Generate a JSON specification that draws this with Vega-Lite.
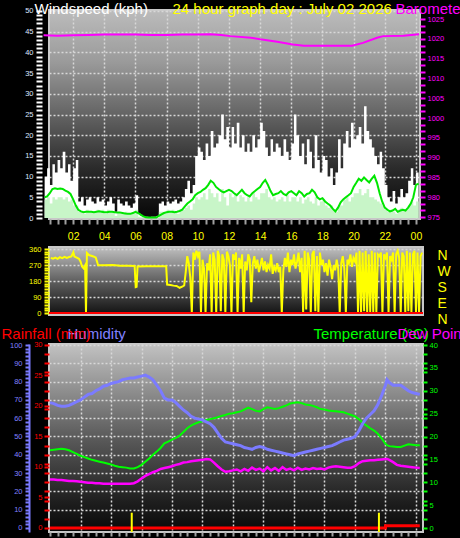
{
"$schema": "https://vega.github.io/schema/vega-lite/v6.json",
"background": "#000000",
"padding": 0,
"autosize": {"type": "pad"},
"config": {
  "font": "Liberation Sans",
  "axis": {"labelFont": "Liberation Sans", "titleFont": "Liberation Sans", "labelOverlap": false, "labelFlush": false, "domain": false, "titleFontWeight": "normal", "labelFontWeight": "normal", "gridDash": [2, 2], "gridColor": "#d8d8d8", "gridWidth": 1.5, "tickWidth": 2, "minExtent": 0},
  "axisY": {"minExtent": 0},
  "view": {"stroke": null}
},
"datasets": {
  "wind": [
    {"h":0.17,"gust":10,"speed":4.5,"avg":5},{"h":0.33,"gust":12,"speed":5,"avg":5.2},{"h":0.5,"gust":8,"speed":3.5,"avg":6},{"h":0.67,"gust":13,"speed":5,"avg":7},{"h":0.83,"gust":11,"speed":4.5,"avg":7.2},{"h":1,"gust":14,"speed":5,"avg":7},
    {"h":1.17,"gust":12,"speed":5,"avg":7.1},{"h":1.33,"gust":16,"speed":4.5,"avg":7},{"h":1.5,"gust":11,"speed":5,"avg":6.6},{"h":1.67,"gust":13,"speed":4,"avg":6.3},{"h":1.83,"gust":9,"speed":4.5,"avg":5.8},{"h":2,"gust":12,"speed":3,"avg":4.5},
    {"h":2.17,"gust":14,"speed":3,"avg":3},{"h":2.33,"gust":4,"speed":1.5,"avg":2},{"h":2.5,"gust":5,"speed":1.5,"avg":1.6},{"h":2.67,"gust":3,"speed":1,"avg":1.4},{"h":2.83,"gust":4.5,"speed":2,"avg":1.5},{"h":3,"gust":5,"speed":1.5,"avg":1.5},
    {"h":3.17,"gust":4,"speed":1.5,"avg":1.5},{"h":3.33,"gust":3.5,"speed":1.5,"avg":1.4},{"h":3.5,"gust":5,"speed":2,"avg":1.5},{"h":3.67,"gust":4,"speed":1.5,"avg":1.6},{"h":3.83,"gust":4.5,"speed":2,"avg":1.5},{"h":4,"gust":3,"speed":1,"avg":1.4},
    {"h":4.17,"gust":4,"speed":2,"avg":1.4},{"h":4.33,"gust":5,"speed":1.5,"avg":1.5},{"h":4.5,"gust":3.5,"speed":1.5,"avg":1.5},{"h":4.67,"gust":1.5,"speed":0.5,"avg":1.4},{"h":4.83,"gust":4.5,"speed":1.5,"avg":1.3},{"h":5,"gust":3.5,"speed":1,"avg":1.3},
    {"h":5.17,"gust":3,"speed":1,"avg":1.2},{"h":5.33,"gust":4,"speed":1.5,"avg":1.1},{"h":5.5,"gust":3,"speed":1,"avg":1},{"h":5.67,"gust":2.5,"speed":1,"avg":1},{"h":5.83,"gust":3.5,"speed":1.5,"avg":1.2},{"h":6,"gust":5.5,"speed":2,"avg":1.5},
    {"h":6.17,"gust":1,"speed":0.3,"avg":1.2},{"h":6.33,"gust":0.5,"speed":0.2,"avg":0.8},{"h":6.5,"gust":0.3,"speed":0,"avg":0.4},{"h":6.67,"gust":0.3,"speed":0,"avg":0.2},{"h":6.83,"gust":0.2,"speed":0,"avg":0.1},{"h":7,"gust":0.3,"speed":0,"avg":0.1},
    {"h":7.17,"gust":0.3,"speed":0,"avg":0.1},{"h":7.33,"gust":0.5,"speed":0,"avg":0.1},{"h":7.5,"gust":3.5,"speed":1.5,"avg":0.5},{"h":7.67,"gust":4,"speed":1.5,"avg":0.9},{"h":7.83,"gust":3,"speed":1,"avg":1.2},{"h":8,"gust":4,"speed":2,"avg":1.4},
    {"h":8.17,"gust":3.5,"speed":1.5,"avg":1.5},{"h":8.33,"gust":4,"speed":2,"avg":1.5},{"h":8.5,"gust":4.5,"speed":1.5,"avg":1.4},{"h":8.67,"gust":3.5,"speed":1,"avg":1.5},{"h":8.83,"gust":4,"speed":2,"avg":1.7},{"h":9,"gust":5,"speed":2,"avg":2},
    {"h":9.17,"gust":7,"speed":2.5,"avg":2.8},{"h":9.33,"gust":9,"speed":3,"avg":3.5},{"h":9.5,"gust":6,"speed":2,"avg":4},{"h":9.67,"gust":8,"speed":3.5,"avg":4.5},{"h":9.83,"gust":15,"speed":5,"avg":5.5},{"h":10,"gust":17,"speed":4.5,"avg":6},
    {"h":10.17,"gust":16,"speed":5,"avg":6.3},{"h":10.33,"gust":14,"speed":6,"avg":6.8},{"h":10.5,"gust":18,"speed":4.5,"avg":7.2},{"h":10.67,"gust":15,"speed":7,"avg":8},{"h":10.83,"gust":21,"speed":6,"avg":9},{"h":11,"gust":17,"speed":5,"avg":8.5},
    {"h":11.17,"gust":18,"speed":6,"avg":7.5},{"h":11.33,"gust":20,"speed":4,"avg":7},{"h":11.5,"gust":25,"speed":7,"avg":6.5},{"h":11.67,"gust":19,"speed":5,"avg":6.2},{"h":11.83,"gust":22,"speed":3,"avg":6.5},{"h":12,"gust":17,"speed":6,"avg":6.8},
    {"h":12.17,"gust":22,"speed":5,"avg":6.5},{"h":12.33,"gust":18,"speed":6,"avg":6},{"h":12.5,"gust":23,"speed":4,"avg":5.5},{"h":12.67,"gust":17,"speed":5.5,"avg":6.2},{"h":12.83,"gust":20,"speed":5,"avg":6.8},{"h":13,"gust":16,"speed":4,"avg":6},
    {"h":13.17,"gust":18,"speed":5,"avg":5.5},{"h":13.33,"gust":16,"speed":4,"avg":5.2},{"h":13.5,"gust":20,"speed":6,"avg":6},{"h":13.67,"gust":17,"speed":5,"avg":6.5},{"h":13.83,"gust":19,"speed":4.5,"avg":7},{"h":14,"gust":23,"speed":6,"avg":7.5},
    {"h":14.17,"gust":21,"speed":6,"avg":8.5},{"h":14.33,"gust":17,"speed":7,"avg":9.2},{"h":14.5,"gust":15,"speed":5,"avg":8},{"h":14.67,"gust":19,"speed":4.5,"avg":6.5},{"h":14.83,"gust":16,"speed":5,"avg":5.5},{"h":15,"gust":18,"speed":4,"avg":5.8},
    {"h":15.17,"gust":17,"speed":4.5,"avg":6},{"h":15.33,"gust":15,"speed":5,"avg":6.5},{"h":15.5,"gust":19,"speed":4,"avg":5.8},{"h":15.67,"gust":16,"speed":5.5,"avg":5.5},{"h":15.83,"gust":14,"speed":4,"avg":6.2},{"h":16,"gust":18,"speed":5,"avg":6.5},
    {"h":16.17,"gust":25,"speed":5,"avg":6},{"h":16.33,"gust":20,"speed":4,"avg":5.5},{"h":16.5,"gust":15,"speed":5,"avg":6.5},{"h":16.67,"gust":18,"speed":3.5,"avg":6},{"h":16.83,"gust":13,"speed":4.5,"avg":5.2},{"h":17,"gust":19,"speed":5,"avg":5.8},
    {"h":17.17,"gust":16,"speed":4,"avg":6},{"h":17.33,"gust":12,"speed":3.5,"avg":6.8},{"h":17.5,"gust":20,"speed":5,"avg":6.2},{"h":17.67,"gust":14,"speed":3,"avg":5},{"h":17.83,"gust":11,"speed":4,"avg":4.5},{"h":18,"gust":15,"speed":4.5,"avg":4.8},
    {"h":18.17,"gust":14,"speed":3,"avg":4},{"h":18.33,"gust":10,"speed":2.5,"avg":3.5},{"h":18.5,"gust":12,"speed":3,"avg":3},{"h":18.67,"gust":8,"speed":2,"avg":2.2},{"h":18.83,"gust":11,"speed":1.5,"avg":1.6},{"h":19,"gust":19,"speed":3,"avg":2.5},
    {"h":19.17,"gust":12,"speed":3,"avg":3.8},{"h":19.33,"gust":18,"speed":4.5,"avg":4.5},{"h":19.5,"gust":21,"speed":5,"avg":5},{"h":19.67,"gust":17,"speed":4,"avg":5.5},{"h":19.83,"gust":23,"speed":5,"avg":6},{"h":20,"gust":19,"speed":6,"avg":7.5},
    {"h":20.17,"gust":20,"speed":6,"avg":8.5},{"h":20.33,"gust":22,"speed":7,"avg":9.5},{"h":20.5,"gust":18,"speed":5.5,"avg":9},{"h":20.67,"gust":27,"speed":6,"avg":9.8},{"h":20.83,"gust":21,"speed":7,"avg":9.2},{"h":21,"gust":19,"speed":5,"avg":8.6},
    {"h":21.17,"gust":17,"speed":5,"avg":9.5},{"h":21.33,"gust":15,"speed":4.5,"avg":10.2},{"h":21.5,"gust":13,"speed":4,"avg":8.5},{"h":21.67,"gust":16,"speed":3.5,"avg":6},{"h":21.83,"gust":12,"speed":3,"avg":4},{"h":22,"gust":8,"speed":2,"avg":2.5},
    {"h":22.17,"gust":5,"speed":1.5,"avg":2},{"h":22.33,"gust":4,"speed":2,"avg":1.6},{"h":22.5,"gust":6.5,"speed":1.5,"avg":1.8},{"h":22.67,"gust":3.5,"speed":1,"avg":2.2},{"h":22.83,"gust":5,"speed":2,"avg":1.5},{"h":23,"gust":7,"speed":2.5,"avg":1.8},
    {"h":23.17,"gust":5,"speed":2,"avg":2},{"h":23.33,"gust":6,"speed":2,"avg":1.8},{"h":23.5,"gust":9,"speed":3,"avg":2.5},{"h":23.67,"gust":12,"speed":4,"avg":3.5},{"h":23.83,"gust":8,"speed":3,"avg":5},{"h":24,"gust":11,"speed":4,"avg":8},
    {"h":24.17,"gust":23,"speed":5,"avg":8.3}
  ],
  "pressure": [
    {"h":0.1,"hPa":1020.9},{"h":1,"hPa":1020.8},{"h":2,"hPa":1020.9},{"h":3,"hPa":1021},{"h":4,"hPa":1021.1},{"h":5,"hPa":1021.1},{"h":6,"hPa":1021.1},{"h":7,"hPa":1021},{"h":8,"hPa":1021},{"h":9,"hPa":1021.1},{"h":10,"hPa":1021.1},{"h":10.8,"hPa":1021.2},{"h":11.5,"hPa":1021},{"h":12.1,"hPa":1020.7},{"h":13.4,"hPa":1020.3},{"h":14,"hPa":1019.9},{"h":15.1,"hPa":1019.3},{"h":16.1,"hPa":1018.6},{"h":16.8,"hPa":1018.3},{"h":18,"hPa":1018.3},{"h":19,"hPa":1018.3},{"h":19.9,"hPa":1018.3},{"h":20.6,"hPa":1019},{"h":21.5,"hPa":1020.3},{"h":21.9,"hPa":1020.7},{"h":23.2,"hPa":1020.8},{"h":24.2,"hPa":1021.2}
  ],
  "direction": [
    {"h":0.05,"dir":310},{"h":0.2,"dir":306},{"h":0.35,"dir":312},{"h":0.5,"dir":305},{"h":0.65,"dir":314},{"h":0.8,"dir":309},{"h":0.95,"dir":316},{"h":1.1,"dir":310},{"h":1.25,"dir":315},{"h":1.4,"dir":318},{"h":1.53,"dir":342},{"h":1.6,"dir":318},{"h":1.75,"dir":312},{"h":1.9,"dir":305},{"h":2,"dir":290},{"h":2.1,"dir":262},{"h":2.2,"dir":252},{"h":2.3,"dir":268},{"h":2.36,"dir":0},{"h":2.42,"dir":338},{"h":2.55,"dir":326},{"h":2.7,"dir":322},{"h":2.85,"dir":318},{"h":3,"dir":312},{"h":3.1,"dir":285},{"h":3.15,"dir":268},{"h":3.6,"dir":268},{"h":4.1,"dir":270},{"h":4.6,"dir":266},{"h":5.1,"dir":266},{"h":5.55,"dir":265},{"h":5.62,"dir":146},{"h":5.68,"dir":148},{"h":5.74,"dir":262},{"h":6.3,"dir":263},{"h":6.9,"dir":263},{"h":7.4,"dir":263},{"h":7.62,"dir":263},{"h":7.68,"dir":160},{"h":7.9,"dir":157},{"h":8.1,"dir":154},{"h":8.3,"dir":152},{"h":8.5,"dir":142},{"h":8.7,"dir":150},{"h":8.8,"dir":155},
    {"h":8.9,"dir":230},{"h":9,"dir":320},{"h":9.1,"dir":280},{"h":9.2,"dir":200},{"h":9.3,"dir":0},{"h":9.4,"dir":340},{"h":9.5,"dir":300},{"h":9.6,"dir":350},{"h":9.7,"dir":320},{"h":9.8,"dir":345},{"h":9.9,"dir":0},
    {"h":10,"dir":300},{"h":10.1,"dir":250},{"h":10.2,"dir":0},{"h":10.3,"dir":280},{"h":10.4,"dir":240},{"h":10.5,"dir":330},{"h":10.6,"dir":0},{"h":10.7,"dir":340},{"h":10.8,"dir":300},{"h":10.9,"dir":0},
    {"h":11,"dir":350},{"h":11.1,"dir":320},{"h":11.2,"dir":10},{"h":11.3,"dir":330},{"h":11.4,"dir":300},{"h":11.5,"dir":0},{"h":11.6,"dir":345},{"h":11.7,"dir":320},{"h":11.8,"dir":270},{"h":11.9,"dir":0},
    {"h":12,"dir":330},{"h":12.1,"dir":300},{"h":12.2,"dir":340},{"h":12.3,"dir":0},{"h":12.4,"dir":310},{"h":12.5,"dir":250},{"h":12.6,"dir":330},{"h":12.7,"dir":0},{"h":12.8,"dir":290},{"h":12.9,"dir":240},
    {"h":13,"dir":330},{"h":13.1,"dir":300},{"h":13.2,"dir":60},{"h":13.3,"dir":280},{"h":13.4,"dir":320},{"h":13.5,"dir":250},{"h":13.6,"dir":300},{"h":13.7,"dir":230},{"h":13.8,"dir":270},{"h":13.9,"dir":310},
    {"h":14,"dir":240},{"h":14.1,"dir":290},{"h":14.2,"dir":230},{"h":14.3,"dir":270},{"h":14.4,"dir":250},{"h":14.5,"dir":330},{"h":14.6,"dir":220},{"h":14.7,"dir":260},{"h":14.8,"dir":240},{"h":14.9,"dir":280},
    {"h":15,"dir":230},{"h":15.1,"dir":260},{"h":15.2,"dir":0},{"h":15.3,"dir":240},{"h":15.4,"dir":310},{"h":15.5,"dir":260},{"h":15.6,"dir":340},{"h":15.7,"dir":230},{"h":15.8,"dir":300},{"h":15.9,"dir":270},
    {"h":16,"dir":330},{"h":16.1,"dir":250},{"h":16.2,"dir":290},{"h":16.3,"dir":340},{"h":16.4,"dir":230},{"h":16.5,"dir":310},{"h":16.6,"dir":0},{"h":16.7,"dir":350},{"h":16.8,"dir":20},{"h":16.9,"dir":340},
    {"h":17,"dir":300},{"h":17.1,"dir":0},{"h":17.2,"dir":330},{"h":17.3,"dir":350},{"h":17.4,"dir":10},{"h":17.5,"dir":320},{"h":17.6,"dir":0},{"h":17.7,"dir":340},{"h":17.8,"dir":270},{"h":17.9,"dir":300},
    {"h":18,"dir":230},{"h":18.1,"dir":280},{"h":18.2,"dir":210},{"h":18.3,"dir":300},{"h":18.4,"dir":260},{"h":18.5,"dir":190},{"h":18.6,"dir":270},{"h":18.7,"dir":240},{"h":18.8,"dir":300},{"h":18.9,"dir":250},
    {"h":19,"dir":0},{"h":19.1,"dir":280},{"h":19.2,"dir":320},{"h":19.3,"dir":250},{"h":19.4,"dir":0},{"h":19.5,"dir":300},{"h":19.6,"dir":280},{"h":19.7,"dir":330},{"h":19.8,"dir":260},{"h":19.9,"dir":310},
    {"h":20,"dir":290},{"h":20.1,"dir":340},{"h":20.2,"dir":0},{"h":20.3,"dir":350},{"h":20.4,"dir":0},{"h":20.5,"dir":340},{"h":20.6,"dir":10},{"h":20.7,"dir":350},{"h":20.8,"dir":0},{"h":20.9,"dir":330},
    {"h":21,"dir":5},{"h":21.1,"dir":350},{"h":21.2,"dir":0},{"h":21.3,"dir":340},{"h":21.4,"dir":0},{"h":21.5,"dir":330},{"h":21.6,"dir":320},{"h":21.7,"dir":340},{"h":21.8,"dir":0},{"h":21.9,"dir":330},
    {"h":22,"dir":310},{"h":22.1,"dir":340},{"h":22.2,"dir":0},{"h":22.3,"dir":320},{"h":22.4,"dir":300},{"h":22.5,"dir":340},{"h":22.6,"dir":0},{"h":22.7,"dir":330},{"h":22.8,"dir":350},{"h":22.9,"dir":310},
    {"h":23,"dir":0},{"h":23.1,"dir":340},{"h":23.2,"dir":320},{"h":23.3,"dir":0},{"h":23.4,"dir":350},{"h":23.5,"dir":10},{"h":23.6,"dir":340},{"h":23.7,"dir":0},{"h":23.8,"dir":330},{"h":23.9,"dir":350},
    {"h":24,"dir":0},{"h":24.1,"dir":340},{"h":24.2,"dir":0},{"h":24.3,"dir":320},{"h":24.4,"dir":340}
  ],
  "climate": [
    {"h":0,"humidity":68.5,"temp":17,"dew":10.6,"rain":0},{"h":0.25,"humidity":68,"temp":17.1,"dew":10.6,"rain":0},{"h":0.5,"humidity":67,"temp":17.2,"dew":10.5,"rain":0},{"h":0.75,"humidity":66.5,"temp":17.3,"dew":10.5,"rain":0},
    {"h":1,"humidity":66.5,"temp":17.2,"dew":10.4,"rain":0},{"h":1.25,"humidity":67,"temp":17,"dew":10.3,"rain":0},{"h":1.5,"humidity":68,"temp":16.6,"dew":10.3,"rain":0},{"h":1.75,"humidity":69,"temp":16.2,"dew":10.2,"rain":0},
    {"h":2,"humidity":70,"temp":15.8,"dew":10.1,"rain":0},{"h":2.25,"humidity":71.5,"temp":15.5,"dew":10,"rain":0},{"h":2.5,"humidity":73,"temp":15.2,"dew":9.9,"rain":0},{"h":2.75,"humidity":73.5,"temp":14.9,"dew":9.9,"rain":0},
    {"h":3,"humidity":75,"temp":14.7,"dew":9.8,"rain":0},{"h":3.25,"humidity":76,"temp":14.5,"dew":9.8,"rain":0},{"h":3.5,"humidity":77.5,"temp":14.3,"dew":9.7,"rain":0},{"h":3.75,"humidity":78,"temp":14.1,"dew":9.7,"rain":0},
    {"h":4,"humidity":79,"temp":13.9,"dew":9.7,"rain":0},{"h":4.25,"humidity":79.5,"temp":13.6,"dew":9.7,"rain":0},{"h":4.5,"humidity":80,"temp":13.4,"dew":9.7,"rain":0},{"h":4.75,"humidity":81,"temp":13.3,"dew":9.7,"rain":0},
    {"h":5,"humidity":81.5,"temp":13.2,"dew":9.7,"rain":0},{"h":5.25,"humidity":82,"temp":13,"dew":9.7,"rain":0},{"h":5.5,"humidity":82,"temp":13,"dew":9.8,"rain":0},{"h":5.75,"humidity":82.5,"temp":13.3,"dew":10.2,"rain":0},
    {"h":6,"humidity":83,"temp":13.8,"dew":10.8,"rain":0},{"h":6.25,"humidity":83.5,"temp":14.5,"dew":11.4,"rain":0},{"h":6.5,"humidity":82.5,"temp":15.2,"dew":11.8,"rain":0},{"h":6.75,"humidity":81,"temp":16,"dew":12.2,"rain":0},
    {"h":7,"humidity":78,"temp":16.7,"dew":12.5,"rain":0},{"h":7.25,"humidity":75,"temp":17.5,"dew":12.9,"rain":0},{"h":7.5,"humidity":71,"temp":18.5,"dew":13.1,"rain":0},{"h":7.75,"humidity":70,"temp":18.9,"dew":13.3,"rain":0},
    {"h":8,"humidity":70,"temp":19.3,"dew":13.5,"rain":0},{"h":8.25,"humidity":68.5,"temp":19.7,"dew":13.8,"rain":0},{"h":8.5,"humidity":66.5,"temp":20.2,"dew":14,"rain":0},{"h":8.75,"humidity":64.5,"temp":21,"dew":14.3,"rain":0},
    {"h":9,"humidity":63,"temp":21.8,"dew":14.4,"rain":0},{"h":9.25,"humidity":61,"temp":22.4,"dew":14.6,"rain":0},{"h":9.5,"humidity":60,"temp":22.8,"dew":14.7,"rain":0},{"h":9.75,"humidity":59.5,"temp":23.1,"dew":14.8,"rain":0},
    {"h":10,"humidity":59,"temp":23.3,"dew":14.9,"rain":0},{"h":10.25,"humidity":58,"temp":23.6,"dew":15.1,"rain":0},{"h":10.5,"humidity":57,"temp":23.8,"dew":15,"rain":0},{"h":10.75,"humidity":55,"temp":24,"dew":14.3,"rain":0},
    {"h":11,"humidity":52,"temp":24.2,"dew":13.5,"rain":0},{"h":11.25,"humidity":49,"temp":24.5,"dew":12.8,"rain":0},{"h":11.5,"humidity":47,"temp":24.7,"dew":12.3,"rain":0},{"h":11.75,"humidity":46.5,"temp":25,"dew":12.4,"rain":0},
    {"h":12,"humidity":46,"temp":25.1,"dew":12.6,"rain":0},{"h":12.25,"humidity":45.5,"temp":25.3,"dew":12.8,"rain":0},{"h":12.5,"humidity":45,"temp":25.5,"dew":12.4,"rain":0},{"h":12.75,"humidity":44,"temp":25.9,"dew":12.9,"rain":0},
    {"h":13,"humidity":43.5,"temp":26.3,"dew":12.5,"rain":0},{"h":13.25,"humidity":43,"temp":26,"dew":13.2,"rain":0},{"h":13.5,"humidity":44,"temp":25.6,"dew":12.7,"rain":0},{"h":13.75,"humidity":44.5,"temp":25.5,"dew":13,"rain":0},
    {"h":14,"humidity":44,"temp":26,"dew":12.4,"rain":0},{"h":14.25,"humidity":43,"temp":26.4,"dew":13.3,"rain":0},{"h":14.5,"humidity":42.5,"temp":26.2,"dew":12.6,"rain":0},{"h":14.75,"humidity":42,"temp":26,"dew":13.1,"rain":0},
    {"h":15,"humidity":41.5,"temp":26.2,"dew":12.5,"rain":0},{"h":15.25,"humidity":41,"temp":26.5,"dew":13.3,"rain":0},{"h":15.5,"humidity":40.5,"temp":26.8,"dew":12.7,"rain":0},{"h":15.75,"humidity":40,"temp":27.2,"dew":13,"rain":0},
    {"h":16,"humidity":39.5,"temp":27.4,"dew":12.6,"rain":0},{"h":16.25,"humidity":40.5,"temp":27.5,"dew":13.2,"rain":0},{"h":16.5,"humidity":41,"temp":27.3,"dew":12.7,"rain":0},{"h":16.75,"humidity":41.5,"temp":27,"dew":13,"rain":0},
    {"h":17,"humidity":42,"temp":26.9,"dew":12.8,"rain":0},{"h":17.25,"humidity":42.5,"temp":26.7,"dew":13.1,"rain":0},{"h":17.5,"humidity":43,"temp":26.4,"dew":12.9,"rain":0},{"h":17.75,"humidity":43.5,"temp":26,"dew":13,"rain":0},
    {"h":18,"humidity":44,"temp":25.9,"dew":12.8,"rain":0},{"h":18.25,"humidity":44.5,"temp":25.7,"dew":13.2,"rain":0},{"h":18.5,"humidity":45,"temp":25.6,"dew":13.4,"rain":0},{"h":18.75,"humidity":46,"temp":25.5,"dew":13.5,"rain":0},
    {"h":19,"humidity":47,"temp":25.4,"dew":13.4,"rain":0},{"h":19.25,"humidity":48,"temp":25.3,"dew":13.3,"rain":0},{"h":19.5,"humidity":48.5,"temp":25,"dew":13.2,"rain":0},{"h":19.75,"humidity":49,"temp":24.7,"dew":13.2,"rain":0},
    {"h":20,"humidity":50,"temp":24.4,"dew":13.5,"rain":0},{"h":20.25,"humidity":53,"temp":23.8,"dew":14.2,"rain":0},{"h":20.5,"humidity":57,"temp":23,"dew":14.6,"rain":0},{"h":20.75,"humidity":60,"temp":22.4,"dew":14.7,"rain":0},
    {"h":21,"humidity":62,"temp":21.8,"dew":14.8,"rain":0},{"h":21.25,"humidity":64,"temp":21.3,"dew":14.8,"rain":0},{"h":21.5,"humidity":67.5,"temp":20.6,"dew":14.9,"rain":0},{"h":21.75,"humidity":72.5,"temp":19.6,"dew":15,"rain":0},
    {"h":22,"humidity":78,"temp":18.4,"dew":15.1,"rain":0.35},{"h":22.1,"humidity":81,"temp":18.1,"dew":15.1,"rain":0.35},{"h":22.25,"humidity":79.5,"temp":17.9,"dew":14.9,"rain":0.35},{"h":22.5,"humidity":78,"temp":17.8,"dew":14.4,"rain":0.35},{"h":22.75,"humidity":78,"temp":17.7,"dew":13.8,"rain":0.35},
    {"h":23,"humidity":78,"temp":17.7,"dew":13.6,"rain":0.35},{"h":23.25,"humidity":76.5,"temp":18,"dew":13.5,"rain":0.35},{"h":23.5,"humidity":75,"temp":18.3,"dew":13.4,"rain":0.35},{"h":23.75,"humidity":74,"temp":18.2,"dew":13.3,"rain":0.35},
    {"h":24,"humidity":73.5,"temp":18.1,"dew":13.2,"rain":0.35},{"h":24.25,"humidity":73,"temp":18.1,"dew":13.1,"rain":0.35}
  ],
  "sun": [{"event":"sunrise","h":5.36},{"event":"sunset","h":21.57}]
},
"concat": [
  {
    "width": 371, "height": 209,
    "view": {"fill": {"gradient": "linear", "x1": 0, "y1": 0, "x2": 0, "y2": 1, "stops": [{"offset": 0, "color": "#bcbcbc"}, {"offset": 0.25, "color": "#9a9a9a"}, {"offset": 0.5, "color": "#646464"}, {"offset": 0.75, "color": "#2c2c2c"}, {"offset": 1, "color": "#060606"}]}, "stroke": "#c8c8c8", "strokeWidth": 2},
    "layer": [
      {"mark": {"type": "rect", "clip": false, "fill": {"gradient": "linear", "x1": 0, "y1": 0, "x2": 0, "y2": 1, "stops": [{"offset": 0, "color": "#bcbcbc"}, {"offset": 0.25, "color": "#9a9a9a"}, {"offset": 0.5, "color": "#646464"}, {"offset": 0.75, "color": "#2c2c2c"}, {"offset": 1, "color": "#060606"}]}},
       "encoding": {
         "x": {"datum": 0, "type": "quantitative", "scale": {"domain": [0.45, 24.26], "nice": false, "zero": false},
               "axis": {"values": [0.5,1,1.5,2,2.5,3,3.5,4,4.5,5,5.5,6,6.5,7,7.5,8,8.5,9,9.5,10,10.5,11,11.5,12,12.5,13,13.5,14,14.5,15,15.5,16,16.5,17,17.5,18,18.5,19,19.5,20,20.5,21,21.5,22,22.5,23,23.5,24],
                        "labelExpr": "datum.value % 2 == 0 && datum.value > 0 ? (datum.value == 24 ? '00' : (datum.value < 10 ? '0' + datum.value : '' + datum.value)) : ''",
                        "labelColor": "#ffff00", "labelFontSize": 10.5, "labelPadding": 7, "tickColor": "#a0a0a0", "tickSize": 5,
                        "grid": true, "gridOpacity": {"condition": {"test": "datum.value % 2 != 0", "value": 0}, "value": 1},
                        "title": "24 hour graph day : July 02 2026", "titleColor": "#ffff00", "titleFontSize": 15, "titleAngle": 0, "titleAlign": "left", "titleBaseline": "alphabetic", "titleX": 123, "titleY": -206}},
         "x2": {"datum": 0.5},
         "y": {"datum": -0.24, "type": "quantitative", "scale": {"domain": [-0.24, 50.24], "nice": false, "zero": false}, "axis": null},
         "y2": {"datum": 50.24}
       }},
      {"data": {"name": "wind"},
       "mark": {"type": "area", "color": "#ffffff", "interpolate": "step-after", "clip": false},
       "encoding": {
         "x": {"field": "h", "type": "quantitative", "scale": {"domain": [0.45, 24.26], "nice": false, "zero": false},
               "axis": {"values": [0.5,1,1.5,2,2.5,3,3.5,4,4.5,5,5.5,6,6.5,7,7.5,8,8.5,9,9.5,10,10.5,11,11.5,12,12.5,13,13.5,14,14.5,15,15.5,16,16.5,17,17.5,18,18.5,19,19.5,20,20.5,21,21.5,22,22.5,23,23.5,24],
                        "labelExpr": "datum.value % 2 == 0 && datum.value > 0 ? (datum.value == 24 ? '00' : (datum.value < 10 ? '0' + datum.value : '' + datum.value)) : ''",
                        "labelColor": "#ffff00", "labelFontSize": 10.5, "labelPadding": 7, "tickColor": "#a0a0a0", "tickSize": 5,
                        "grid": true, "gridOpacity": {"condition": {"test": "datum.value % 2 != 0", "value": 0}, "value": 1},
                        "title": "24 hour graph day : July 02 2026", "titleColor": "#ffff00", "titleFontSize": 15, "titleAngle": 0, "titleAlign": "left", "titleBaseline": "alphabetic", "titleX": 123, "titleY": -206}},
         "y": {"field": "gust", "type": "quantitative", "scale": {"domain": [-0.24, 50.24], "nice": false, "zero": false},
               "axis": {"orient": "left", "offset": 7, "values": [0,1,2,3,4,5,6,7,8,9,10,11,12,13,14,15,16,17,18,19,20,21,22,23,24,25,26,27,28,29,30,31,32,33,34,35,36,37,38,39,40,41,42,43,44,45,46,47,48,49,50],
                        "labelExpr": "datum.value % 5 == 0 ? datum.label : ''", "labelColor": "#dfe8ff", "labelFontSize": 7.5, "labelPadding": 3, "tickColor": "#ffffff", "tickSize": 6,
                        "grid": true, "gridOpacity": {"condition": {"test": "datum.value % 5 != 0 || datum.value == 0", "value": 0}, "value": 1},
                        "title": "Windspeed (kph)", "titleColor": "#ffffff", "titleFontSize": 15, "titleAngle": 0, "titleAlign": "left", "titleBaseline": "alphabetic", "titleX": -8, "titleY": 3}}
       }},
      {"data": {"name": "wind"},
       "mark": {"type": "area", "color": "#c8f5c8", "interpolate": "step-after", "clip": false},
       "encoding": {
         "x": {"field": "h", "type": "quantitative", "scale": {"domain": [0.45, 24.26], "nice": false, "zero": false},
               "axis": {"values": [0.5,1,1.5,2,2.5,3,3.5,4,4.5,5,5.5,6,6.5,7,7.5,8,8.5,9,9.5,10,10.5,11,11.5,12,12.5,13,13.5,14,14.5,15,15.5,16,16.5,17,17.5,18,18.5,19,19.5,20,20.5,21,21.5,22,22.5,23,23.5,24],
                        "labelExpr": "datum.value % 2 == 0 && datum.value > 0 ? (datum.value == 24 ? '00' : (datum.value < 10 ? '0' + datum.value : '' + datum.value)) : ''",
                        "labelColor": "#ffff00", "labelFontSize": 10.5, "labelPadding": 7, "tickColor": "#a0a0a0", "tickSize": 5,
                        "grid": true, "gridOpacity": {"condition": {"test": "datum.value % 2 != 0", "value": 0}, "value": 1},
                        "title": "24 hour graph day : July 02 2026", "titleColor": "#ffff00", "titleFontSize": 15, "titleAngle": 0, "titleAlign": "left", "titleBaseline": "alphabetic", "titleX": 123, "titleY": -206}},
         "y": {"field": "speed", "type": "quantitative", "scale": {"domain": [-0.24, 50.24], "nice": false, "zero": false}, "axis": null}
       }},
      {"data": {"name": "wind"},
       "mark": {"type": "line", "color": "#00e600", "strokeWidth": 2, "clip": false},
       "encoding": {
         "x": {"field": "h", "type": "quantitative", "scale": {"domain": [0.45, 24.26], "nice": false, "zero": false},
               "axis": {"values": [0.5,1,1.5,2,2.5,3,3.5,4,4.5,5,5.5,6,6.5,7,7.5,8,8.5,9,9.5,10,10.5,11,11.5,12,12.5,13,13.5,14,14.5,15,15.5,16,16.5,17,17.5,18,18.5,19,19.5,20,20.5,21,21.5,22,22.5,23,23.5,24],
                        "labelExpr": "datum.value % 2 == 0 && datum.value > 0 ? (datum.value == 24 ? '00' : (datum.value < 10 ? '0' + datum.value : '' + datum.value)) : ''",
                        "labelColor": "#ffff00", "labelFontSize": 10.5, "labelPadding": 7, "tickColor": "#a0a0a0", "tickSize": 5,
                        "grid": true, "gridOpacity": {"condition": {"test": "datum.value % 2 != 0", "value": 0}, "value": 1},
                        "title": "24 hour graph day : July 02 2026", "titleColor": "#ffff00", "titleFontSize": 15, "titleAngle": 0, "titleAlign": "left", "titleBaseline": "alphabetic", "titleX": 123, "titleY": -206}},
         "y": {"field": "avg", "type": "quantitative", "scale": {"domain": [-0.24, 50.24], "nice": false, "zero": false}, "axis": null}
       }},
      {"data": {"name": "pressure"},
       "mark": {"type": "line", "color": "#ff00ff", "strokeWidth": 2, "clip": false},
       "encoding": {
         "x": {"field": "h", "type": "quantitative", "scale": {"domain": [0.45, 24.26], "nice": false, "zero": false},
               "axis": {"values": [0.5,1,1.5,2,2.5,3,3.5,4,4.5,5,5.5,6,6.5,7,7.5,8,8.5,9,9.5,10,10.5,11,11.5,12,12.5,13,13.5,14,14.5,15,15.5,16,16.5,17,17.5,18,18.5,19,19.5,20,20.5,21,21.5,22,22.5,23,23.5,24],
                        "labelExpr": "datum.value % 2 == 0 && datum.value > 0 ? (datum.value == 24 ? '00' : (datum.value < 10 ? '0' + datum.value : '' + datum.value)) : ''",
                        "labelColor": "#ffff00", "labelFontSize": 10.5, "labelPadding": 7, "tickColor": "#a0a0a0", "tickSize": 5,
                        "grid": true, "gridOpacity": {"condition": {"test": "datum.value % 2 != 0", "value": 0}, "value": 1},
                        "title": "24 hour graph day : July 02 2026", "titleColor": "#ffff00", "titleFontSize": 15, "titleAngle": 0, "titleAlign": "left", "titleBaseline": "alphabetic", "titleX": 123, "titleY": -206}},
         "y": {"field": "hPa", "type": "quantitative", "scale": {"domain": [974.5, 1027.3], "nice": false, "zero": false},
               "axis": {"orient": "right", "values": [975,976.67,978.33,980,981.67,983.33,985,986.67,988.33,990,991.67,993.33,995,996.67,998.33,1000,1001.67,1003.33,1005,1006.67,1008.33,1010,1011.67,1013.33,1015,1016.67,1018.33,1020,1021.67,1023.33,1025],
                        "format": "d", "labelExpr": "datum.value % 5 == 0 ? datum.label : ''", "labelColor": "#ff00ff", "labelFontSize": 7.5, "labelPadding": 2, "tickColor": "#ff00ff", "tickSize": 5, "grid": false,
                        "title": "Barometer (hPa)", "titleColor": "#ff00ff", "titleFontSize": 15, "titleAngle": 0, "titleAlign": "left", "titleBaseline": "alphabetic", "titleX": -25, "titleY": 3}}
       }},
      {"mark": {"type": "rule", "color": "#c8c8c8", "strokeWidth": 2, "clip": false},
       "encoding": {
         "x": {"datum": 0, "type": "quantitative", "scale": {"domain": [0.45, 24.26], "nice": false, "zero": false},
               "axis": {"values": [0.5,1,1.5,2,2.5,3,3.5,4,4.5,5,5.5,6,6.5,7,7.5,8,8.5,9,9.5,10,10.5,11,11.5,12,12.5,13,13.5,14,14.5,15,15.5,16,16.5,17,17.5,18,18.5,19,19.5,20,20.5,21,21.5,22,22.5,23,23.5,24],
                        "labelExpr": "datum.value % 2 == 0 && datum.value > 0 ? (datum.value == 24 ? '00' : (datum.value < 10 ? '0' + datum.value : '' + datum.value)) : ''",
                        "labelColor": "#ffff00", "labelFontSize": 10.5, "labelPadding": 7, "tickColor": "#a0a0a0", "tickSize": 5,
                        "grid": true, "gridOpacity": {"condition": {"test": "datum.value % 2 != 0", "value": 0}, "value": 1},
                        "title": "24 hour graph day : July 02 2026", "titleColor": "#ffff00", "titleFontSize": 15, "titleAngle": 0, "titleAlign": "left", "titleBaseline": "alphabetic", "titleX": 123, "titleY": -206}}
       }}
    ],
    "resolve": {"scale": {"y": "independent"}}
  },
  {
    "concat": [
      {
        "width": 374, "height": 68,
        "view": {"fill": {"gradient": "linear", "x1": 0, "y1": 0, "x2": 0, "y2": 1, "stops": [{"offset": 0, "color": "#c0c0c0"}, {"offset": 0.5, "color": "#606060"}, {"offset": 1, "color": "#101010"}]}, "stroke": "#c8c8c8", "strokeWidth": 2},
        "layer": [
          {"data": {"name": "direction"},
           "mark": {"type": "line", "color": "#ffff00", "strokeWidth": 2},
           "encoding": {
             "x": {"field": "h", "type": "quantitative", "scale": {"domain": [-0.066, 24.46], "nice": false, "zero": false}, "axis": null},
             "y": {"field": "dir", "type": "quantitative", "scale": {"domain": [-11.25, 371.25], "nice": false, "zero": false},
                   "axis": {"orient": "left", "values": [0,15,30,45,60,75,90,105,120,135,150,165,180,195,210,225,240,255,270,285,300,315,330,345,360],
                            "labelExpr": "datum.value % 90 == 0 ? datum.label : ''", "labelColor": "#ffff00", "labelFontSize": 7.5, "labelPadding": 3, "tickColor": "#ffff00", "tickSize": 5,
                            "grid": true, "gridOpacity": {"condition": {"test": "datum.value % 90 != 0 || datum.value == 0", "value": 0}, "value": 1}, "title": null}}
           }},
          {"data": {"values": [{"calm": 0}]},
           "mark": {"type": "rule", "color": "#ff0000", "strokeWidth": 2},
           "encoding": {
             "y": {"field": "calm", "type": "quantitative", "scale": {"domain": [-11.25, 371.25], "nice": false, "zero": false},
                   "axis": {"orient": "right", "values": [0, 90, 180, 270, 360],
                            "labelExpr": "datum.value == 90 ? 'E' : datum.value == 180 ? 'S' : datum.value == 270 ? 'W' : 'N'",
                            "labelColor": "#ffff00", "labelFontSize": 14, "labelPadding": 14, "labelOffset": 6, "ticks": false, "grid": false, "title": null}}
           }}
        ],
        "resolve": {"scale": {"y": "independent"}}
      },
      {
        "width": 374, "height": 188,
        "view": {"fill": {"gradient": "linear", "x1": 0, "y1": 0, "x2": 0, "y2": 1, "stops": [{"offset": 0, "color": "#c2c2c2"}, {"offset": 0.47, "color": "#606060"}, {"offset": 0.84, "color": "#1e1e1e"}, {"offset": 1, "color": "#080808"}]}, "stroke": "#c8c8c8", "strokeWidth": 2},
        "layer": [
          {"data": {"name": "climate"},
           "mark": {"type": "line", "color": "#00ff00", "strokeWidth": 2},
           "encoding": {
             "x": {"field": "h", "type": "quantitative", "scale": {"domain": [-0.066, 24.46], "nice": false, "zero": false},
                   "axis": {"values": [0,0.5,1,1.5,2,2.5,3,3.5,4,4.5,5,5.5,6,6.5,7,7.5,8,8.5,9,9.5,10,10.5,11,11.5,12,12.5,13,13.5,14,14.5,15,15.5,16,16.5,17,17.5,18,18.5,19,19.5,20,20.5,21,21.5,22,22.5,23,23.5,24],
                            "labels": false, "tickColor": "#a0a0a0", "tickSize": 4,
                            "grid": true, "gridOpacity": {"condition": {"test": "datum.value % 2 != 0 || datum.value == 0", "value": 0}, "value": 1}, "title": null}},
             "y": {"field": "temp", "type": "quantitative", "scale": {"domain": [-0.87, 40.22], "nice": false, "zero": false},
                   "axis": {"orient": "right", "values": [0,2,4,5,6,8,10,12,14,15,16,18,20,22,24,25,26,28,30,32,34,35,36,38,40],
                            "labelExpr": "datum.value % 5 == 0 ? datum.label : ''", "labelColor": "#00ff00", "labelFontSize": 7.5, "labelPadding": 2, "tickColor": "#00ff00", "tickSize": 4, "grid": false,
                            "title": "Temperature (°C)", "titleColor": "#00ff00", "titleFontSize": 15, "titleAngle": 0, "titleAlign": "left", "titleBaseline": "alphabetic", "titleX": -110, "titleY": -6}}
           }},
          {"data": {"name": "climate"},
           "mark": {"type": "line", "color": "#ff00ff", "strokeWidth": 2.5},
           "encoding": {
             "x": {"field": "h", "type": "quantitative", "scale": {"domain": [-0.066, 24.46], "nice": false, "zero": false},
                   "axis": {"values": [0,0.5,1,1.5,2,2.5,3,3.5,4,4.5,5,5.5,6,6.5,7,7.5,8,8.5,9,9.5,10,10.5,11,11.5,12,12.5,13,13.5,14,14.5,15,15.5,16,16.5,17,17.5,18,18.5,19,19.5,20,20.5,21,21.5,22,22.5,23,23.5,24],
                            "labels": false, "tickColor": "#a0a0a0", "tickSize": 4,
                            "grid": true, "gridOpacity": {"condition": {"test": "datum.value % 2 != 0 || datum.value == 0", "value": 0}, "value": 1}, "title": null}},
             "y": {"field": "dew", "type": "quantitative", "scale": {"domain": [-0.87, 40.22], "nice": false, "zero": false},
                   "axis": {"orient": "right", "labels": false, "ticks": false, "grid": false,
                            "title": "Dew Point", "titleColor": "#ff00ff", "titleFontSize": 15, "titleAngle": 0, "titleAlign": "left", "titleBaseline": "alphabetic", "titleX": -26, "titleY": -6}}
           }},
          {"data": {"name": "climate"},
           "mark": {"type": "line", "color": "#7b7bff", "strokeWidth": 3},
           "encoding": {
             "x": {"field": "h", "type": "quantitative", "scale": {"domain": [-0.066, 24.46], "nice": false, "zero": false},
                   "axis": {"values": [0,0.5,1,1.5,2,2.5,3,3.5,4,4.5,5,5.5,6,6.5,7,7.5,8,8.5,9,9.5,10,10.5,11,11.5,12,12.5,13,13.5,14,14.5,15,15.5,16,16.5,17,17.5,18,18.5,19,19.5,20,20.5,21,21.5,22,22.5,23,23.5,24],
                            "labels": false, "tickColor": "#a0a0a0", "tickSize": 4,
                            "grid": true, "gridOpacity": {"condition": {"test": "datum.value % 2 != 0 || datum.value == 0", "value": 0}, "value": 1}, "title": null}},
             "y": {"field": "humidity", "type": "quantitative", "scale": {"domain": [-2.19, 100.55], "nice": false, "zero": false},
                   "axis": {"orient": "left", "offset": 20, "values": [0,2,4,6,8,10,12,14,16,18,20,22,24,26,28,30,32,34,36,38,40,42,44,46,48,50,52,54,56,58,60,62,64,66,68,70,72,74,76,78,80,82,84,86,88,90,92,94,96,98,100],
                            "labelExpr": "datum.value % 10 == 0 ? datum.label : ''", "labelColor": "#8080ff", "labelFontSize": 7.5, "labelPadding": 3, "tickColor": "#7b7bff", "tickSize": 4,
                            "domain": true, "domainColor": "#7b7bff", "domainWidth": 2,
                            "grid": true, "gridOpacity": {"condition": {"test": "datum.value % 10 != 0 || datum.value == 0", "value": 0}, "value": 1},
                            "title": "Humidity", "titleColor": "#8080ff", "titleFontSize": 15, "titleAngle": 0, "titleAlign": "left", "titleBaseline": "alphabetic", "titleX": 38, "titleY": -6}}
           }},
          {"data": {"name": "climate"},
           "mark": {"type": "line", "color": "#ff0000", "strokeWidth": 3, "interpolate": "step-after"},
           "encoding": {
             "x": {"field": "h", "type": "quantitative", "scale": {"domain": [-0.066, 24.46], "nice": false, "zero": false},
                   "axis": {"values": [0,0.5,1,1.5,2,2.5,3,3.5,4,4.5,5,5.5,6,6.5,7,7.5,8,8.5,9,9.5,10,10.5,11,11.5,12,12.5,13,13.5,14,14.5,15,15.5,16,16.5,17,17.5,18,18.5,19,19.5,20,20.5,21,21.5,22,22.5,23,23.5,24],
                            "labels": false, "tickColor": "#a0a0a0", "tickSize": 4,
                            "grid": true, "gridOpacity": {"condition": {"test": "datum.value % 2 != 0 || datum.value == 0", "value": 0}, "value": 1}, "title": null}},
             "y": {"field": "rain", "type": "quantitative", "scale": {"domain": [-0.66, 30.16], "nice": false, "zero": false},
                   "axis": {"orient": "left", "values": [0,1.5,3,4.5,5,6,7.5,9,10,10.5,12,13.5,15,16.5,18,19.5,20,21,22.5,24,25,25.5,27,28.5,30],
                            "labelExpr": "datum.value % 5 == 0 ? datum.label : ''", "labelColor": "#ff0000", "labelFontSize": 7.5, "labelPadding": 2, "tickColor": "#ff0000", "tickSize": 5, "grid": false,
                            "title": "Rainfall (mm)", "titleColor": "#ff0000", "titleFontSize": 15, "titleAngle": 0, "titleAlign": "left", "titleBaseline": "alphabetic", "titleX": -48, "titleY": -6}}
           }},
          {"data": {"name": "sun"},
           "mark": {"type": "rule", "color": "#ffff00", "strokeWidth": 2},
           "encoding": {
             "x": {"field": "h", "type": "quantitative", "scale": {"domain": [-0.066, 24.46], "nice": false, "zero": false},
                   "axis": {"values": [0,0.5,1,1.5,2,2.5,3,3.5,4,4.5,5,5.5,6,6.5,7,7.5,8,8.5,9,9.5,10,10.5,11,11.5,12,12.5,13,13.5,14,14.5,15,15.5,16,16.5,17,17.5,18,18.5,19,19.5,20,20.5,21,21.5,22,22.5,23,23.5,24],
                            "labels": false, "tickColor": "#a0a0a0", "tickSize": 4,
                            "grid": true, "gridOpacity": {"condition": {"test": "datum.value % 2 != 0 || datum.value == 0", "value": 0}, "value": 1}, "title": null}},
             "y": {"datum": 2.5, "type": "quantitative", "scale": {"domain": [-0.66, 30.16], "nice": false, "zero": false}, "axis": null},
             "y2": {"datum": -0.66}
           }}
        ],
        "resolve": {"scale": {"y": "independent"}}
      }
    ],
    "columns": 1,
    "bounds": "flush",
    "spacing": 29
  }
],
"columns": 1,
"bounds": "full",
"spacing": 1
}
